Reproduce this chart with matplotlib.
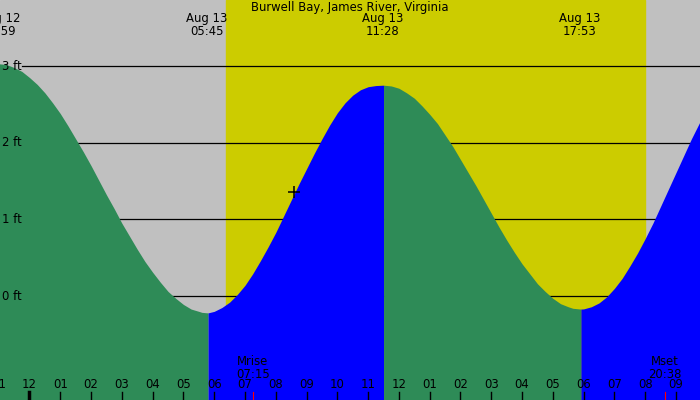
import matplotlib
matplotlib.use("Agg")
import matplotlib.pyplot as plt
import numpy as np

TITLE = "Burwell Bay, James River, Virginia"

# hours after midnight Aug 13, heights in ft
tide_hours = [-1.02, -0.75, -0.5, -0.25, 0.0, 0.25, 0.5, 0.75, 1.0, 1.25, 1.5, 1.75, 2.0, 2.25,
              2.5, 2.75, 3.0, 3.25, 3.5, 3.75, 4.0, 4.25, 4.5, 4.75, 5.0, 5.25, 5.5, 5.6, 5.80,
              6.0, 6.25, 6.5, 6.75, 7.0, 7.25, 7.5, 7.75, 8.0, 8.25, 8.5, 8.75, 9.0, 9.25,
              9.5, 9.75, 10.0, 10.25, 10.5, 10.75, 11.0, 11.25, 11.5,
              11.75, 12.0, 12.25, 12.5, 12.75, 13.0, 13.25, 13.5, 13.75, 14.0, 14.25, 14.5,
              14.75, 15.0, 15.25, 15.5, 15.75, 16.0, 16.25, 16.5, 16.75, 17.0, 17.25, 17.5,
              17.65, 17.91,
              18.0, 18.25, 18.5, 18.75, 19.0, 19.25, 19.5, 19.75, 20.0, 20.25, 20.5, 20.75,
              21.0, 21.25, 21.5, 21.75, 22.0]
tide_ft = [3.03, 3.02, 2.98, 2.93, 2.85, 2.76, 2.65, 2.52, 2.38, 2.22, 2.05, 1.88, 1.70, 1.51,
           1.32, 1.14, 0.95, 0.78, 0.61, 0.45, 0.31, 0.18, 0.06, -0.03, -0.11, -0.17, -0.20, -0.213, -0.22,
           -0.20, -0.15, -0.08, 0.02, 0.14, 0.29, 0.46, 0.64, 0.83, 1.04, 1.25, 1.46, 1.66, 1.86,
           2.05, 2.23, 2.39, 2.52, 2.62, 2.69, 2.73, 2.745, 2.75,
           2.74, 2.71, 2.65, 2.58, 2.48, 2.37, 2.25, 2.10, 1.95, 1.78, 1.61, 1.44,
           1.26, 1.08, 0.90, 0.73, 0.57, 0.42, 0.29, 0.16, 0.06, -0.03, -0.10, -0.14,
           -0.16, -0.17,
           -0.168, -0.14, -0.09, -0.01, 0.10, 0.23, 0.39, 0.56, 0.75, 0.95, 1.17, 1.39,
           1.61, 1.83, 2.05, 2.25, 2.45]

extreme_hours = [-1.02, 5.80, 11.50, 17.91, 22.0]
event_hours = [-0.98, 5.75, 11.47, 17.88]
event_labels = ["Aug 12\n22:59", "Aug 13\n05:45", "Aug 13\n11:28", "Aug 13\n17:53"]

sunrise, sunset = 6.38, 19.99
moon_hours = [7.25, 20.63]
moon_labels = ["Mrise\n07:15", "Mset\n20:38"]

grid_ft = [0, 1, 2, 3]
hour_ticks = list(range(-1, 22))

GRAY = "#c0c0c0"
YELLOW = "#cccc00"
GREEN = "#2e8b57"
BLUE = "#0000ff"
FS = 8.4

fig = plt.figure(figsize=(7, 4), dpi=100)
ax = fig.add_axes([0, 0, 1, 1])
ax.set_xlim(-0.958, 21.78)
ax.set_ylim(-1.356, 3.861)
ax.axis("off")
ax.add_patch(plt.Rectangle((0, 0), 1, 1, transform=ax.transAxes, color=GRAY, zorder=0))

ax.axvspan(sunrise, sunset, color=YELLOW, zorder=1)

for g in grid_ft:
    ax.plot([-0.24, 21.78], [g, g], color="black", lw=0.9, zorder=2)
    ax.text(-0.9, g, "%d ft" % g, fontsize=FS, va="center", ha="left", zorder=5)

t = np.array(tide_hours)
h = np.array(tide_ft)
for a, b in zip(extreme_hours[:-1], extreme_hours[1:]):
    m = (t >= a - 1e-6) & (t <= b + 1e-6)
    seg_h = h[m]
    col = BLUE if seg_h[-1] > seg_h[0] else GREEN
    ax.fill_between(t[m], seg_h, -2, color=col, lw=0, zorder=3)

# current time marker
ax.plot([8.58], [1.36], marker="+", color="black", ms=8, mew=1.1, zorder=6)

tr = ax.get_xaxis_transform()
for hr in hour_ticks:
    lab = "%02d" % ((hr % 12) or 12)
    ax.text(hr, 0.0375, lab, transform=tr, ha="center", va="center", fontsize=FS, zorder=6)
    lw = 2.5 if hr % 24 == 0 else 1.0
    ax.plot([hr, hr], [0, 0.02], transform=tr, color="black", lw=lw, zorder=6)

for mh, ml in zip(moon_hours, moon_labels):
    ax.text(mh, 0.08, ml, transform=tr, ha="center", va="center", fontsize=FS, linespacing=1.0, zorder=6)
    ax.plot([mh, mh], [0, 0.02], transform=tr, color="red", lw=0.8, zorder=6)

for eh, el in zip(event_hours, event_labels):
    ax.text(eh, 0.937, el, transform=tr, ha="center", va="center", fontsize=FS, linespacing=1.0, zorder=6)

ax.text(0.5, 0.98, TITLE, transform=ax.transAxes, ha="center", va="center", fontsize=FS, zorder=6)

fig.savefig("out.png", dpi=100)
